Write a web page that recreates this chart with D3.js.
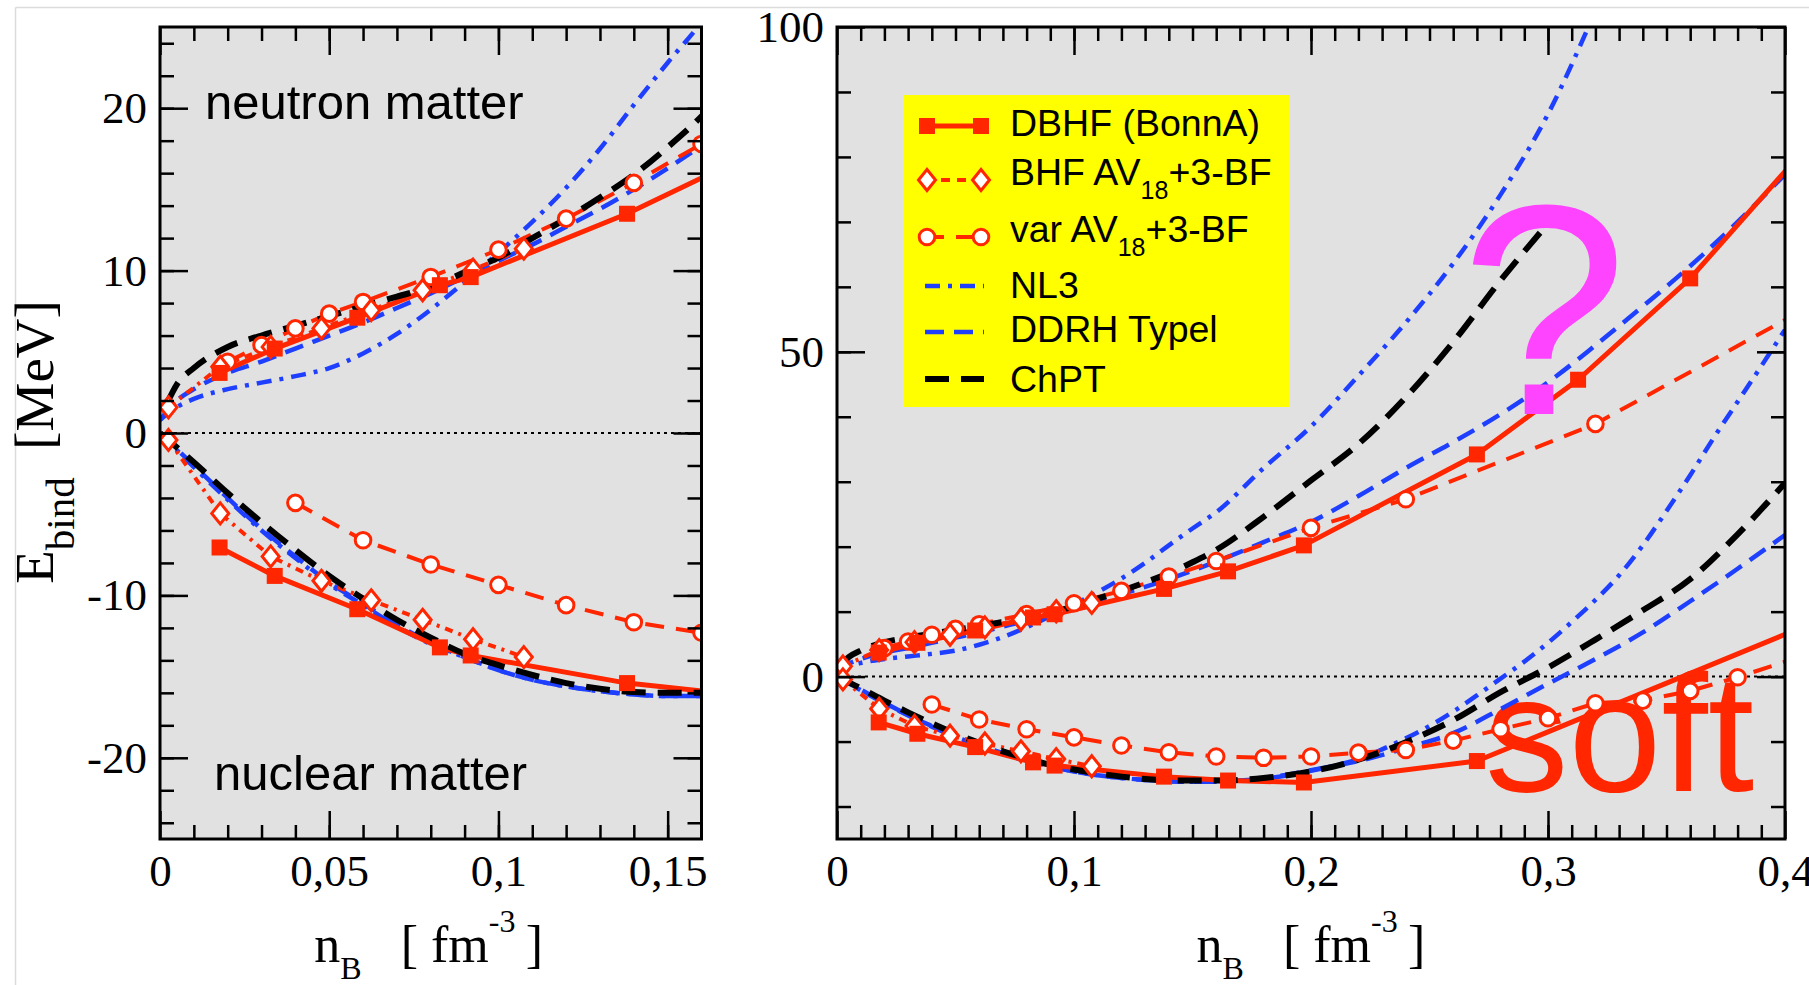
<!DOCTYPE html>
<html><head><meta charset="utf-8">
<script src="https://cdn.jsdelivr.net/npm/d3@7"></script>
<style>html,body{margin:0;padding:0;background:#fff;overflow:hidden}svg{display:block}</style>
</head><body>
<svg id="c" width="1809" height="985"></svg>
<script>
// ================= DATA =================
const leftXTickValues = [0, 0.05, 0.1, 0.15];
const leftXTickLabels = ["0", "0,05", "0,1", "0,15"];
const leftYTickValues = [-20, -10, 0, 10, 20];
const leftYTickLabels = ["-20", "-10", "0", "10", "20"];
const rightXTickValues = [0, 0.1, 0.2, 0.3, 0.4];
const rightXTickLabels = ["0", "0,1", "0,2", "0,3", "0,4"];
const rightYTickValues = [0, 50, 100];
const rightYTickLabels = ["0", "50", "100"];

const legendMain = ["DBHF (BonnA)", "BHF AV", "var AV", "NL3", "DDRH Typel", "ChPT"];
const legendSub  = ["", "18", "18", "", "", ""];
const legendRest = ["", "+3-BF", "+3-BF", "", "", ""];

// DBHF (Bonn A) – filled squares
const dbhfNeutron = [[0.0176,3.7],[0.0339,5.2],[0.0583,7.1],[0.0827,9.1],[0.0918,9.6],[0.138,13.5],[0.165,16.2],[0.197,20.2],[0.27,34.2],[0.3127,45.7],[0.36,61.3],[0.42,86.0]];
const dbhfNuclear = [[0.0176,-7.05],[0.0339,-8.8],[0.0583,-10.85],[0.0827,-13.2],[0.0918,-13.7],[0.138,-15.4],[0.165,-16.0],[0.197,-16.3],[0.27,-13.0],[0.43,11.0]];
// BHF AV18+3-BF – open diamonds
const bhfNeutron = [[0.0025,1.58],[0.0178,4.08],[0.0327,5.3],[0.0477,6.44],[0.0624,7.56],[0.0776,8.79],[0.0925,10.06],[0.1075,11.35]];
const bhfNuclear = [[0.0025,-0.43],[0.0178,-4.95],[0.0327,-7.6],[0.0477,-9.1],[0.0624,-10.3],[0.0776,-11.5],[0.0925,-12.7],[0.1075,-13.8]];
// var AV18+3-BF – open circles
const varNeutron = [[0.02,4.39],[0.03,5.41],[0.04,6.44],[0.05,7.35],[0.06,8.07],[0.08,9.61],[0.10,11.29],[0.12,13.2],[0.14,15.4],[0.16,17.8],[0.20,22.9],[0.24,27.3],[0.32,38.9],[0.48,70.9]];
const varNuclear = [[0.04,-4.3],[0.06,-6.6],[0.08,-8.1],[0.10,-9.35],[0.12,-10.6],[0.14,-11.65],[0.16,-12.3],[0.18,-12.5],[0.20,-12.3],[0.22,-11.7],[0.24,-11.3],[0.26,-9.85],[0.28,-8.1],[0.30,-6.4],[0.32,-4.1],[0.34,-3.7],[0.36,-2.2],[0.38,-0.1],[0.42,4.7]];
// NL3
const nl3Neutron = [[0,0.8],[0.005,1.6],[0.01,2.1],[0.02,2.7],[0.03,3.1],[0.04,3.5],[0.05,4.0],[0.06,4.9],[0.07,6.1],[0.08,7.6],[0.09,9.3],[0.10,11.1],[0.11,13.0],[0.12,15.1],[0.13,17.5],[0.14,20.2],[0.15,22.8],[0.16,25.3],[0.18,32.1],[0.20,38.5],[0.22,46.3],[0.24,54.5],[0.26,63.6],[0.28,74.2],[0.30,86.6],[0.32,102.5]];
const nl3Nuclear = [[0,0],[0.01,-2.1],[0.02,-4.1],[0.03,-6.0],[0.04,-7.7],[0.05,-9.3],[0.06,-10.6],[0.07,-11.9],[0.08,-13.0],[0.09,-13.8],[0.10,-14.6],[0.11,-15.2],[0.12,-15.6],[0.13,-15.9],[0.14,-16.1],[0.15,-16.2],[0.16,-16.2],[0.17,-16.0],[0.18,-15.7],[0.19,-15.2],[0.20,-14.5],[0.21,-13.7],[0.22,-12.7],[0.23,-11.2],[0.24,-9.5],[0.25,-7.6],[0.26,-5.4],[0.27,-2.9],[0.28,-0.3],[0.29,2.3],[0.30,5.2],[0.31,8.4],[0.32,11.8],[0.33,15.6],[0.34,20.2],[0.35,25.5],[0.36,31.0],[0.37,36.8],[0.38,42.3],[0.39,47.8],[0.40,53.4]];
// DDRH (Typel)
const ddrhNeutron = [[0,0.8],[0.005,2.0],[0.01,2.7],[0.02,3.7],[0.03,4.4],[0.04,5.2],[0.05,6.0],[0.06,6.8],[0.07,7.7],[0.08,8.6],[0.09,9.6],[0.10,10.6],[0.11,11.6],[0.12,12.7],[0.13,13.8],[0.14,15.0],[0.15,16.3],[0.16,17.7],[0.18,20.7],[0.20,23.8],[0.22,27.8],[0.24,32.1],[0.26,36.1],[0.28,40.4],[0.30,45.3],[0.32,51.0],[0.34,57.0],[0.36,63.2],[0.38,70.0],[0.40,77.3]];
const ddrhNuclear = [[0,0],[0.01,-2.0],[0.02,-4.0],[0.03,-5.9],[0.04,-7.6],[0.05,-9.2],[0.06,-10.5],[0.07,-11.8],[0.08,-12.9],[0.09,-13.8],[0.10,-14.6],[0.11,-15.2],[0.12,-15.6],[0.13,-15.9],[0.14,-16.1],[0.15,-16.2],[0.16,-16.2],[0.17,-16.0],[0.18,-15.6],[0.19,-15.1],[0.20,-14.4],[0.22,-13.0],[0.24,-11.0],[0.26,-8.7],[0.28,-5.0],[0.30,-1.1],[0.32,2.7],[0.34,6.8],[0.36,11.6],[0.38,16.6],[0.40,21.8]];
// ChPT
const chptNeutron = [[0.002,1.8],[0.005,3.0],[0.01,4.0],[0.02,5.3],[0.03,6.0],[0.04,6.6],[0.05,7.2],[0.06,7.8],[0.07,8.4],[0.08,9.0],[0.09,9.9],[0.10,10.8],[0.11,12.0],[0.12,13.2],[0.13,14.5],[0.14,15.9],[0.15,17.6],[0.16,19.5],[0.18,24.6],[0.20,30.2],[0.22,35.8],[0.24,43.0],[0.26,51.5],[0.28,61.0],[0.298,68.9]];
const chptNuclear = [[0,0],[0.01,-1.8],[0.02,-3.7],[0.03,-5.5],[0.04,-7.2],[0.05,-8.8],[0.06,-10.2],[0.07,-11.5],[0.08,-12.6],[0.09,-13.6],[0.10,-14.3],[0.11,-14.9],[0.12,-15.4],[0.13,-15.75],[0.14,-15.95],[0.15,-16.0],[0.16,-16.0],[0.18,-15.6],[0.20,-14.6],[0.22,-12.8],[0.24,-10.1],[0.26,-6.7],[0.28,-2.4],[0.30,1.4],[0.32,5.7],[0.34,10.2],[0.36,15.0],[0.38,21.9],[0.40,29.8]];

// ================= STYLES / LAYOUT =================
const RED = "#ff2600", BLUE = "#1f3fff", BLACK = "#000";
const SERIF = "'Liberation Serif','Times New Roman',serif";
const SANS = "'Liberation Sans',Arial,sans-serif";

const series = [
  {name:"NL3",  sets:[nl3Neutron, nl3Nuclear],   color:BLUE,  width:4.5, dash:"15,8,4,8", curve:d3.curveMonotoneX, marker:null},
  {name:"DDRH", sets:[ddrhNeutron, ddrhNuclear], color:BLUE,  width:4.5, dash:"19,10",    curve:d3.curveMonotoneX, marker:null},
  {name:"var",  sets:[varNeutron, varNuclear],   color:RED,   width:4,   dash:"19,12",    curve:d3.curveLinear,    marker:"circle"},
  {name:"BHF",  sets:[bhfNeutron, bhfNuclear],   color:RED,   width:4,   dash:"8,6,3,6",  curve:d3.curveLinear,    marker:"diamond"},
  {name:"DBHF", sets:[dbhfNeutron, dbhfNuclear], color:RED,   width:5,   dash:null,       curve:d3.curveLinear,    marker:"square"},
  {name:"ChPT", sets:[chptNeutron, chptNuclear], color:BLACK, width:6,   dash:"24,12",    curve:d3.curveMonotoneX, marker:null}
];
const legendOrder = ["DBHF","BHF","var","NL3","DDRH","ChPT"];
const legendDash = {BHF:"9,7"};

const panels = [
  {id:"L", x0:160, x1:701.5, y0:27, y1:839, xDom:[0,0.16], yDom:[-25,25],
   xMaj:leftXTickValues, xLab:leftXTickLabels, yMaj:leftYTickValues, yLab:leftYTickLabels,
   xMin:d3.range(0.01,0.16,0.01), yMin:d3.range(-24,25,2), titleShift:-2},
  {id:"R", x0:837, x1:1785, y0:27, y1:839, xDom:[0,0.4], yDom:[-25,100],
   xMaj:rightXTickValues, xLab:rightXTickLabels, yMaj:rightYTickValues, yLab:rightYTickLabels,
   xMin:d3.range(0.01,0.4,0.01), yMin:d3.range(-20,100,10), titleShift:0}
];

const svg = d3.select("#c");
// faint image frame
svg.append("line").attr("x1",15.5).attr("x2",1809).attr("y1",7.5).attr("y2",7.5).attr("stroke","#dcdcdc").attr("stroke-width",1.5);
svg.append("line").attr("x1",15.5).attr("x2",15.5).attr("y1",7.5).attr("y2",985).attr("stroke","#dcdcdc").attr("stroke-width",1.5);

function drawMarker(g, type, x, y, color) {
  if (type === "square") {
    g.append("rect").attr("x",x-8).attr("y",y-8).attr("width",16).attr("height",16).attr("fill",color);
  } else if (type === "diamond") {
    g.append("path").attr("d",`M${x},${y-10.5}L${x+8.5},${y}L${x},${y+10.5}L${x-8.5},${y}Z`)
      .attr("fill","#fff").attr("stroke",color).attr("stroke-width",3);
  } else if (type === "circle") {
    g.append("circle").attr("cx",x).attr("cy",y).attr("r",7.8)
      .attr("fill","#fff").attr("stroke",color).attr("stroke-width",3);
  }
}

function styleAxis(g, fontSize) {
  g.attr("font-family", SERIF).attr("font-size", fontSize);
  g.select(".domain").remove();
  g.selectAll(".tick line").attr("stroke","#000").attr("stroke-width",2.5);
  g.selectAll(".tick text").attr("fill","#000");
}

panels.forEach(p => {
  const xs = d3.scaleLinear().domain(p.xDom).range([p.x0, p.x1]);
  const ys = d3.scaleLinear().domain(p.yDom).range([p.y1, p.y0]);
  const g = svg.append("g");
  g.append("rect").attr("x",p.x0).attr("y",p.y0).attr("width",p.x1-p.x0).attr("height",p.y1-p.y0).attr("fill","#e1e1e1");
  svg.append("clipPath").attr("id","clip"+p.id).append("rect")
    .attr("x",p.x0).attr("y",p.y0).attr("width",p.x1-p.x0).attr("height",p.y1-p.y0);
  const inner = g.append("g").attr("clip-path",`url(#clip${p.id})`);

  // zero line
  inner.append("line").attr("x1",xs(p.xDom[0])).attr("x2",xs(p.xDom[1])).attr("y1",ys(0)).attr("y2",ys(0))
    .attr("stroke","#000").attr("stroke-width",2).attr("stroke-dasharray","3,4");

  if (p.id === "R") {
    inner.append("text").attr("x",1485).attr("y",791).attr("font-family",SANS).attr("font-size",167)
      .attr("fill",RED).text("soft");
  }

  // lines
  series.forEach(s => {
    const line = d3.line().x(d=>xs(d[0])).y(d=>ys(d[1])).curve(s.curve);
    s.sets.forEach(data => {
      inner.append("path").attr("d",line(data)).attr("fill","none").attr("stroke",s.color)
        .attr("stroke-width",s.width).attr("stroke-dasharray",s.dash).attr("stroke-linejoin","round");
    });
  });
  // markers
  series.forEach(s => {
    if (!s.marker) return;
    s.sets.forEach(data => data.forEach(d => drawMarker(inner, s.marker, xs(d[0]), ys(d[1]), s.color)));
  });

  // annotations
  if (p.id === "L") {
    g.append("text").attr("x",205).attr("y",119).attr("font-family",SANS).attr("font-size",49).text("neutron matter");
    g.append("text").attr("x",214).attr("y",790).attr("font-family",SANS).attr("font-size",49).text("nuclear matter");
  } else {
    inner.append("text").attr("x",1544).attr("y",414).attr("text-anchor","middle").attr("font-family",SANS)
      .attr("font-size",300).attr("fill","#ff44ff").text("?");
  }

  // frame + ticks
  g.append("rect").attr("x",p.x0).attr("y",p.y0).attr("width",p.x1-p.x0).attr("height",p.y1-p.y0)
    .attr("fill","none").attr("stroke","#000").attr("stroke-width",3);

  const bot = g.append("g").attr("transform",`translate(0,${p.y1})`)
    .call(d3.axisBottom(xs).tickValues(p.xMaj).tickSize(-28).tickPadding(15).tickFormat((d,i)=>p.xLab[i]));
  styleAxis(bot, 45);
  const botMin = g.append("g").attr("transform",`translate(0,${p.y1})`)
    .call(d3.axisBottom(xs).tickValues(p.xMin).tickSize(-14).tickFormat(""));
  styleAxis(botMin, 45);
  const top = g.append("g").attr("transform",`translate(0,${p.y0})`)
    .call(d3.axisTop(xs).tickValues(p.xMaj).tickSize(-28).tickFormat(""));
  styleAxis(top, 45);
  const topMin = g.append("g").attr("transform",`translate(0,${p.y0})`)
    .call(d3.axisTop(xs).tickValues(p.xMin).tickSize(-14).tickFormat(""));
  styleAxis(topMin, 45);
  const lft = g.append("g").attr("transform",`translate(${p.x0},0)`)
    .call(d3.axisLeft(ys).tickValues(p.yMaj).tickSize(-28).tickPadding(13).tickFormat((d,i)=>p.yLab[i]));
  styleAxis(lft, 45);
  const lftMin = g.append("g").attr("transform",`translate(${p.x0},0)`)
    .call(d3.axisLeft(ys).tickValues(p.yMin).tickSize(-14).tickFormat(""));
  styleAxis(lftMin, 45);
  const rgt = g.append("g").attr("transform",`translate(${p.x1},0)`)
    .call(d3.axisRight(ys).tickValues(p.yMaj).tickSize(-28).tickFormat(""));
  styleAxis(rgt, 45);
  const rgtMin = g.append("g").attr("transform",`translate(${p.x1},0)`)
    .call(d3.axisRight(ys).tickValues(p.yMin).tickSize(-14).tickFormat(""));
  styleAxis(rgtMin, 45);

  // x-axis title
  const cx = (p.x0 + p.x1) / 2 + p.titleShift;
  const xt = g.append("text").attr("x",cx).attr("y",962).attr("text-anchor","middle")
    .attr("font-family",SERIF).attr("font-size",52).style("white-space","pre");
  xt.append("tspan").text("n");
  xt.append("tspan").attr("font-size",32).attr("dy",17).text("B");
  xt.append("tspan").attr("dy",-17).text("\u00a0\u00a0\u00a0[\u00a0fm");
  xt.append("tspan").attr("font-size",32).attr("dy",-30).text("-3");
  xt.append("tspan").attr("dy",30).text("\u2009]");
});

// y-axis title
const yt = svg.append("text").attr("transform","translate(53,442) rotate(-90)").attr("text-anchor","middle")
  .attr("font-family",SERIF).attr("font-size",55).style("white-space","pre");
yt.append("tspan").text("E");
yt.append("tspan").attr("font-size",41).attr("dy",21).text("bind");
yt.append("tspan").attr("dy",-21).text("\u00a0\u00a0[MeV]");

// legend
const lg = svg.append("g");
lg.append("rect").attr("x",903).attr("y",95).attr("width",386).attr("height",312).attr("fill","#ffff00");
const symY = [126, 180, 237, 286, 332, 379];
const txtY = [136, 185, 242, 298, 342, 392];
legendOrder.forEach((key, i) => {
  const s = series.find(d => d.name === key);
  lg.append("line").attr("x1",925).attr("x2",984).attr("y1",symY[i]).attr("y2",symY[i])
    .attr("stroke",s.color).attr("stroke-width",s.width).attr("stroke-dasharray",legendDash[key] || s.dash);
  if (s.marker) { drawMarker(lg, s.marker, 927, symY[i], s.color); drawMarker(lg, s.marker, 981, symY[i], s.color); }
  const t = lg.append("text").attr("x",1010).attr("y",txtY[i]).attr("font-family",SANS).attr("font-size",37.5);
  t.append("tspan").text(legendMain[i]);
  if (legendSub[i]) {
    t.append("tspan").attr("font-size",25).attr("dy",14).text(legendSub[i]);
    t.append("tspan").attr("dy",-14).text(legendRest[i]);
  }
});
</script>
</body></html>
